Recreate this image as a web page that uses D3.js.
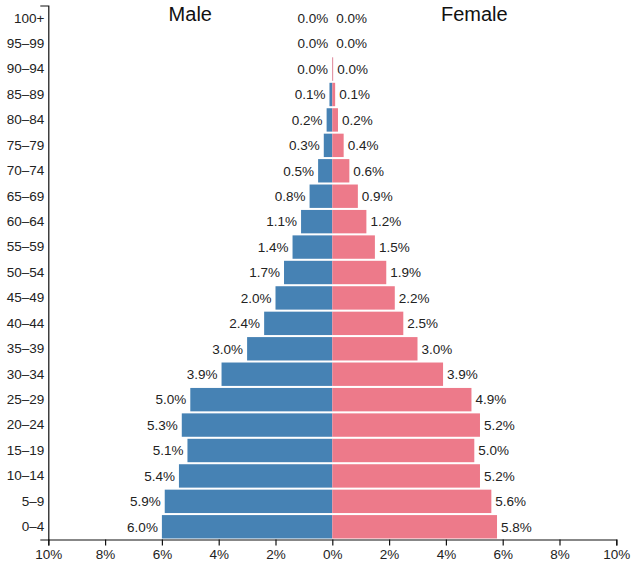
<!DOCTYPE html>
<html>
<head>
<meta charset="utf-8">
<script src="https://cdn.jsdelivr.net/npm/d3@7"></script>
<style>
  html, body { margin: 0; padding: 0; background: #fff; }
  svg { display: block; font-family: "Liberation Sans", Arial, Helvetica, sans-serif; }
</style>
</head>
<body>
<svg id="chart" width="640" height="569"></svg>
<script>
const ageGroups = ["0–4","5–9","10–14","15–19","20–24","25–29","30–34","35–39","40–44","45–49","50–54","55–59","60–64","65–69","70–74","75–79","80–84","85–89","90–94","95–99","100+"];
const maleValues   = [6.0, 5.9, 5.4, 5.1, 5.3, 5.0, 3.9, 3.0, 2.4, 2.0, 1.7, 1.4, 1.1, 0.8, 0.5, 0.3, 0.2, 0.1, 0.01, 0.0, 0.0];
const femaleValues = [5.8, 5.6, 5.2, 5.0, 5.2, 4.9, 3.9, 3.0, 2.5, 2.2, 1.9, 1.5, 1.2, 0.9, 0.6, 0.4, 0.2, 0.1, 0.03, 0.0, 0.0];
const xTickValues = [-10, -8, -6, -4, -2, 0, 2, 4, 6, 8, 10];
const seriesNames = ["Male", "Female"];

(function () {
const svg = d3.select("#chart");
const mLeft = 48.3, mRight = 616.3, mTop = 5.5, mBottom = 539.5;

const x = d3.scaleLinear().domain([-10, 10]).range([mLeft, mRight]);
const y = d3.scaleBand().domain(ageGroups).range([mBottom, mTop]).paddingInner(0.08).paddingOuter(0.04);

const rows = ageGroups.map((g, i) => ({ g, m: maleValues[i], f: femaleValues[i] }));

// bars
svg.append("g").selectAll("rect").data(rows).join("rect")
  .attr("x", d => x(-d.m)).attr("width", d => x(0) - x(-d.m))
  .attr("y", d => y(d.g)).attr("height", y.bandwidth())
  .attr("fill", "#4682b4");
svg.append("g").selectAll("rect").data(rows).join("rect")
  .attr("x", x(0)).attr("width", d => x(d.f) - x(0))
  .attr("y", d => y(d.g)).attr("height", y.bandwidth())
  .attr("fill", "#ed7a8a");

// value labels
const lab = svg.append("g").attr("font-size", 13.5).attr("fill", "#222");
lab.selectAll("text.m").data(rows).join("text").attr("class", "m")
  .attr("x", d => x(-d.m) - 4).attr("y", d => y(d.g) + y.bandwidth() / 2)
  .attr("dy", "0.35em").attr("text-anchor", "end")
  .text(d => d.m.toFixed(1) + "%");
lab.selectAll("text.f").data(rows).join("text").attr("class", "f")
  .attr("x", d => x(d.f) + 4).attr("y", d => y(d.g) + y.bandwidth() / 2)
  .attr("dy", "0.35em").attr("text-anchor", "start")
  .text(d => d.f.toFixed(1) + "%");

// axes
const yAxis = svg.append("g").attr("transform", `translate(${mLeft},0)`)
  .call(d3.axisLeft(y).tickSizeInner(0).tickSizeOuter(8).tickPadding(4));
const xAxis = svg.append("g").attr("transform", `translate(0,${mBottom})`)
  .call(d3.axisBottom(x).tickValues(xTickValues).tickSizeOuter(0).tickSize(6).tickPadding(4)
    .tickFormat(d => Math.abs(d) + "%"));
[yAxis, xAxis].forEach(a => {
  a.attr("font-family", null).attr("font-size", 13.5);
  a.selectAll("text").attr("fill", "#222");
  a.selectAll("path, line").attr("stroke", "#111").attr("stroke-width", 1.2);
});

// titles
svg.append("g").attr("font-size", 20).attr("fill", "#111").attr("text-anchor", "middle")
  .selectAll("text").data(seriesNames).join("text")
  .attr("x", (d, i) => i === 0 ? x(-5) : x(5))
  .attr("y", 21)
  .text(d => d);
})();
</script>
</body>
</html>
